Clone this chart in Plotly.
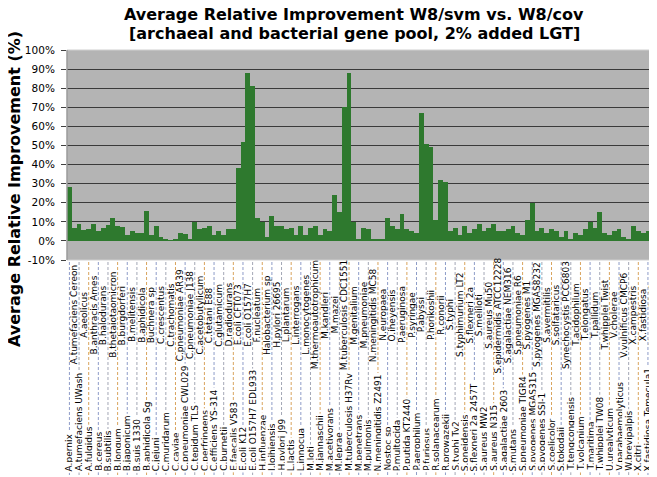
import plotly.graph_objects as go

categories = [
    "A.pernix", "A.tumefaciens Cereon", "A.tumefaciens UWash", "A.aeolicus", "A.fulgidus",
    "B.anthracis Ames", "B.cereus", "B.halodurans", "B.subtilis", "B.thetaiotaomicron",
    "B.longum", "B.burgdorferi", "B.japonicum", "B.melitensis", "B.suis 1330",
    "B.aphidicola", "B.aphidicola Sg", "Buchnera sp", "C.jejuni", "C.crescentus",
    "C.muridarum", "C.trachomatis", "C.caviae", "C.pneumoniae AR39", "C.pneumoniae CWL029",
    "C.pneumoniae J138", "C.tepidum TLS", "C.acetobutylicum", "C.perfringens", "C.tetani E88",
    "C.efficiens YS-314", "C.glutamicum", "C.burnetii", "D.radiodurans", "E.faecalis V583",
    "E.coli CFT073", "E.coli K12", "E.coli O157H7", "E.coli O157H7 EDL933", "F.nucleatum",
    "H.influenzae", "Halobacterium sp", "I.loihiensis", "H.pylori 26695", "H.pylori J99",
    "L.plantarum", "L.lactis", "L.interrogans", "L.innocua", "L.monocytogenes",
    "M.loti", "M.thermoautotrophicum", "M.jannaschii", "M.kandleri", "M.acetivorans",
    "M.mazei", "M.leprae", "M.tuberculosis CDC1551", "M.tuberculosis H37Rv", "M.genitalium",
    "M.penetrans", "M.pneumoniae", "M.pulmonis", "N.meningitidis MC58", "N.meningitidis Z2491",
    "N.europaea", "Nostoc sp", "O.iheyensis", "P.multocida", "P.aeruginosa",
    "P.putida KT2440", "P.syringae", "P.aerophilum", "P.abyssi", "P.furiosus",
    "P.horikoshii", "R.solanacearum", "R.conorii", "R.prowazekii", "S.typhi",
    "S.typhi Ty2", "S.typhimurium LT2", "S.oneidensis", "S.flexneri 2a", "S.flexneri 2a 2457T",
    "S.meliloti", "S.aureus MW2", "S.aureus Mu50", "S.aureus N315", "S.epidermidis ATCC12228",
    "S.agalactiae 2603", "S.agalactiae NEM316", "S.mutans", "S.pneumoniae R6", "S.pneumoniae TIGR4",
    "S.pyogenes M1", "S.pyogenes MGAS315", "S.pyogenes MGAS8232", "S.pyogenes SSI-1", "S.avermitilis",
    "S.coelicolor", "S.solfataricus", "S.tokodaii", "Synechocystis PCC6803", "T.tengcongensis",
    "T.acidophilum", "T.volcanium", "T.elongatus", "T.maritima", "T.pallidum",
    "T.whipplei TW08", "T.whipplei Twist", "U.urealyticum", "V.cholerae", "V.parahaemolyticus",
    "V.vulnificus CMCP6", "W.brevipalpis", "X.campestris", "X.citri", "X.fastidiosa",
    "X.fastidiosa Temecula1", "Y.pestis CO92", "Y.pestis KIM",
]

improvement = [
    28.5, 7, 9, 5.8, 6.4, 9, 5.2, 6.6, 8.4, 12,
    7.7, 7.3, 3, 5, 4, 4, 15.5, 3, 8, 2,
    0.5, 0.3, 1, 4, 3.5, 1, 10, 6, 7, 8,
    3, 5, 3, 6, 6, 38, 52, 88, 81, 12,
    10, 2, 13, 8, 8, 6, 7, 3, 8, 3,
    7, 8, 3, 6, 5, 24, 15, 70, 88, 10,
    1, 7, 6, 1, 1, 0.5, 12, 8, 6, 14,
    6, 5, 4, 67, 51, 49, 11, 32, 31, 5,
    7, 3, 8, 4, 6, 9, 5, 7, 9, 5,
    5, 6, 8, 4, 3, 11, 20, 5, 7, 4,
    6, 5, 2, 5, 1, 4, 3, 6, 10, 7,
    15, 4, 3, 5, 6, 2, 1, 8, 5, 4,
    5, 21, 12,
]

y_ticks = [-10, 0, 10, 20, 30, 40, 50, 60, 70, 80, 90, 100]
y_tick_text = [f"{v}%" for v in y_ticks]

title_line1 = "Average Relative Improvement W8/svm vs. W8/cov"
title_line2 = "[archaeal and bacterial gene pool, 2% added LGT]"
y_title = "Average Relative Improvement (%)"

W, H = 657, 477
ML, MR, MT, MB = 59, 5, 42, 225
plot_h = H - MT - MB


def py(pix):
    """pixel row -> paper y"""
    return (H - MB - pix) / plot_h


def px(pix):
    return (pix - ML) / (W - ML - MR)


n = len(categories)
xs = list(range(1, n + 1))

fig = go.Figure(go.Bar(
    x=xs, y=improvement, width=1.0,
    marker=dict(color="#2e792e", line=dict(width=0)),
    hovertext=categories, hoverinfo="text+y",
))

LABEL_FONT = dict(family="DejaVu Sans", size=9, color="#000000")
annotations = []
shapes = []
leader_colors = ["#8e9cc8", "#a3a7b5", "#d9a45e"]
for i, (xv, name) in enumerate(zip(xs, categories)):
    if i % 2 == 0:
        # low label with dashed leader running up to the axis
        shapes.append(dict(
            type="line", xref="x", yref="paper", x0=xv, x1=xv,
            y0=py(254), y1=py(470), layer="above",
            line=dict(color=leader_colors[(i // 2) % 3], width=1, dash="3px,2px"),
        ))
        annotations.append(dict(
            x=xv, y=py(465), xref="x", yref="paper", text=name, showarrow=False,
            textangle=-90, xanchor="center", yanchor="bottom", bgcolor="white",
            borderpad=1, font=LABEL_FONT,
        ))
    else:
        annotations.append(dict(
            x=xv, y=py(307), xref="x", yref="paper", text=name, showarrow=False,
            textangle=-90, xanchor="center", yanchor="middle", font=LABEL_FONT,
        ))

annotations.append(dict(
    x=px(6), y=py(181), xref="paper", yref="paper", text=y_title, showarrow=False,
    textangle=-90, xanchor="center", yanchor="middle",
    font=dict(family="DejaVu Sans", size=16, color="#000000", weight="bold"),
))
TITLE_FONT = dict(family="DejaVu Sans", size=16, color="#000000", weight="bold")
annotations.append(dict(
    x=px(346), y=py(-5), xref="paper", yref="paper", text=title_line1, showarrow=False,
    xanchor="center", yanchor="top", font=TITLE_FONT,
))
annotations.append(dict(
    x=px(346), y=py(14), xref="paper", yref="paper", text=title_line2, showarrow=False,
    xanchor="center", yanchor="top", font=TITLE_FONT,
))

# light plot-area border and darker left axis
shapes.append(dict(type="rect", xref="paper", yref="paper", x0=0, x1=1, y0=0, y1=1,
                   line=dict(color="#cfcfcf", width=1), layer="above"))
shapes.append(dict(type="line", xref="paper", yref="paper", x0=0, x1=0, y0=0, y1=1,
                   line=dict(color="#808080", width=1), layer="above"))

fig.update_layout(
    width=W, height=H,
    margin=dict(l=ML, r=MR, t=MT, b=MB, pad=0),
    paper_bgcolor="white", plot_bgcolor="#b4b4b4",
    bargap=0, showlegend=False,
    xaxis=dict(range=[0.5, n + 0.5], showticklabels=False, showgrid=False,
               zeroline=False, showline=False, ticks=""),
    yaxis=dict(range=[-10, 100], tickvals=y_ticks, ticktext=y_tick_text,
               showgrid=True, gridcolor="#3a3a3a", gridwidth=1, zeroline=False,
               ticks="outside", ticklen=5, tickcolor="#404040", showline=False,
               ticklabelstandoff=4,
               tickfont=dict(family="DejaVu Sans", size=10.5, color="#000000")),
    annotations=annotations, shapes=shapes,
)

fig.write_html("out.html")
